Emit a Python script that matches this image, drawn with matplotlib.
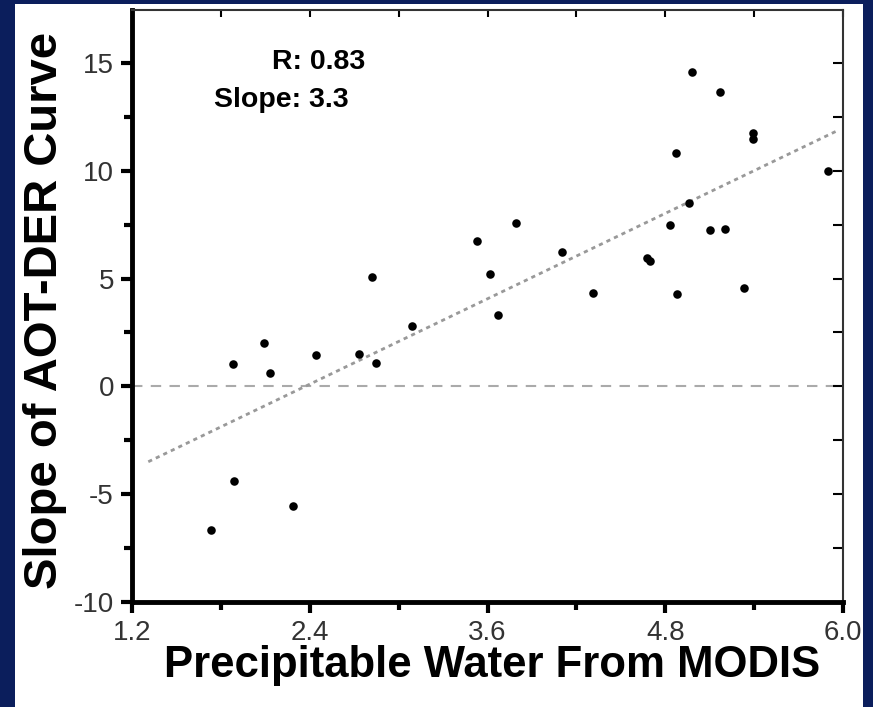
import numpy as np
import matplotlib
matplotlib.use("Agg")
import matplotlib.pyplot as plt
from matplotlib.patches import Rectangle
from matplotlib.ticker import MultipleLocator

plt.rcParams['font.family'] = ['Liberation Sans', 'DejaVu Sans']
plt.rcParams['axes.unicode_minus'] = False

# points
water = [1.73, 1.89, 1.88, 2.09, 2.13, 2.29, 2.44, 2.73, 2.82, 2.85, 3.09,
         3.53, 3.62, 3.67, 3.79, 4.10, 4.31, 4.68, 4.70, 4.83, 4.88, 4.96,
         5.10, 5.20, 5.33, 5.90, 4.87, 4.98, 5.17, 5.39, 5.39]
slope_aot = [-6.67, -4.40, 1.02, 1.99, 0.60, -5.56, 1.44, 1.48, 5.05, 1.06, 2.82,
             6.76, 5.23, 3.33, 7.59, 6.25, 4.31, 5.93, 5.83, 7.50, 4.26, 8.52,
             7.27, 7.31, 4.54, 10.0, 10.83, 14.58, 13.66, 11.76, 11.48]

fit_slope = 3.3
fit_icpt = -7.82
fit_x = np.array([1.31, 5.97])
r_val = 0.83

xticks = [1.2, 2.4, 3.6, 4.8, 6.0]
xtick_labels = ['1.2', '2.4', '3.6', '4.8', '6.0']
yticks = [-10, -5, 0, 5, 10, 15]

navy = '#0b1e5c'
fig = plt.figure(figsize=(8.73, 7.07), dpi=100, facecolor=navy)
# white panel inside the navy frame
fig.patches.append(Rectangle((15 / 873, 0), (863 - 15) / 873, (707 - 4) / 707,
                             transform=fig.transFigure, facecolor='white',
                             edgecolor='none', zorder=-10))

ax = fig.add_axes([132 / 873, 1 - 602 / 707, (843 - 132) / 873, (602 - 10) / 707])
ax.set_facecolor('white')

ax.axhline(0, color='#aaaaaa', lw=1.5, ls=(0, (5, 4)), zorder=1)
ax.plot(fit_x, fit_slope * fit_x + fit_icpt, color='#999999', lw=2,
        ls=(0, (1.5, 1.5)), zorder=2)
ax.scatter(water, slope_aot, s=38, color='black', zorder=3, linewidths=0)

ax.set_xlim(1.2, 6.0)
ax.set_ylim(-10, 17.45)
ax.set_xticks(xticks)
ax.set_xticklabels(xtick_labels)
ax.set_yticks(yticks)
ax.xaxis.set_minor_locator(MultipleLocator(0.6))
ax.yaxis.set_minor_locator(MultipleLocator(2.5))

for side in ['left', 'bottom']:
    ax.spines[side].set_linewidth(3.5)
    ax.spines[side].set_color('black')
for side in ['top', 'right']:
    ax.spines[side].set_linewidth(1.5)
    ax.spines[side].set_color('#333333')

ax.tick_params(axis='both', which='major', direction='out', length=8, width=3,
               labelsize=20, labelcolor='#333333', pad=5)
ax.tick_params(axis='both', which='minor', direction='out', length=6, width=3)
ax.tick_params(axis='both', which='both', top=True, right=True)

# top and right ticks point inward, thin
for t in ax.xaxis.get_major_ticks() + ax.xaxis.get_minor_ticks():
    t.tick2line.set_marker(matplotlib.lines.TICKDOWN)
    t.tick2line.set_markersize(5)
    t.tick2line.set_markeredgewidth(1.5)
for t in ax.yaxis.get_major_ticks() + ax.yaxis.get_minor_ticks():
    t.tick2line.set_marker(matplotlib.lines.TICKLEFT)
    t.tick2line.set_markersize(7)
    t.tick2line.set_markeredgewidth(1.5)

ax.text(0.197, 0.912, 'R: %.2f' % r_val, transform=ax.transAxes,
        fontsize=20.5, fontweight='bold', ha='left', va='center')
ax.text(0.116, 0.848, 'Slope: %.1f' % fit_slope, transform=ax.transAxes,
        fontsize=20.5, fontweight='bold', ha='left', va='center')

fig.text(492 / 873, 1 - 665 / 707, 'Precipitable Water From MODIS',
         fontsize=31.5, fontweight='bold', ha='center', va='center')
fig.text(45 / 873, 1 - 310 / 707, 'Slope of AOT-DER Curve', rotation=90,
         fontsize=34, fontweight='bold', ha='center', va='center')

fig.savefig('out.png', dpi=100, facecolor=navy)
